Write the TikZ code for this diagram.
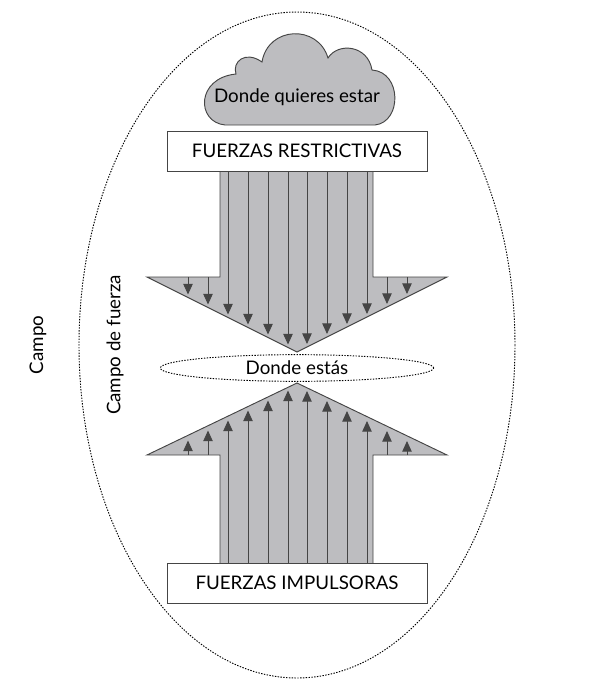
\documentclass[tikz,border=0pt]{standalone}
\usepackage{fontspec}
\setmainfont{Lato}
\usetikzlibrary{arrows.meta}
\usetikzlibrary{shapes}
\definecolor{flecha}{HTML}{BDBDC0}
\definecolor{linea}{HTML}{454545}
\tikzset{
  caja/.style={draw=linea, line width=0.8pt, fill=white, minimum width=7.8cm, minimum height=1.2cm, font=\fontsize{16}{18}\selectfont},
  fuerza/.style={draw=linea, line width=0.7pt, -{Triangle[length=9pt,width=8pt]}},
  punteado/.style={draw, line width=0.8pt, dash pattern=on 1.2pt off 1.2pt}
}
\begin{document}
\begin{tikzpicture}[x=0.03cm, y=-0.03cm]
  \useasboundingbox (0,0) rectangle (600,689);
  % campo
  \draw[punteado] (297,345) ellipse [x radius=218, y radius=333];
  \node[rotate=90, font=\fontsize{16}{18}\selectfont] (campo) at (38,345) {Campo};
  \node[rotate=90, font=\fontsize{16}{18}\selectfont] (campofuerza) at (115,345) {Campo de fuerza};
  % nube
  \draw[draw=linea, line width=0.8pt, fill=flecha] (225,125) -- (375,125)
    .. controls (402,122) and (402,72) .. (372,70)
    .. controls (368,45) and (338,42) .. (328,58)
    .. controls (318,24) and (268,26) .. (262,62)
    .. controls (245,50) and (232,62) .. (236,74)
    .. controls (196,78) and (196,122) .. (225,125) -- cycle;
  \node[font=\fontsize{16}{18}\selectfont] (nube) at (297,97) {Donde quieres estar};
  % flechas
  \draw[draw=linea, line width=0.8pt, fill=flecha] (220,150) -- (220,277) -- (147,277) -- (297,352)
    -- (447,277) -- (373,277) -- (373,150) -- cycle;
  \draw[draw=linea, line width=0.8pt, fill=flecha] (220,585) -- (220,455) -- (147,455) -- (297,383)
    -- (447,455) -- (373,455) -- (373,585) -- cycle;
  \foreach \k in {0,...,11} {
    \pgfmathsetmacro{\xx}{188+20*\k-(\k>5?1:0)}
    \pgfmathsetmacro{\dd}{abs(\xx-297)}
    \pgfmathsetmacro{\ya}{(\dd>70)?277:171}
    \pgfmathsetmacro{\yb}{352-0.5*\dd-3}
    \pgfmathsetmacro{\yc}{(\dd>70)?455:565}
    \pgfmathsetmacro{\yd}{383+0.5*\dd+3}
    \draw[fuerza] (\xx,\ya) -- (\xx,\yb);
    \draw[fuerza] (\xx,\yc) -- (\xx,\yd);
  }
  % cajas
  \node[caja] (restrictivas) at (297,151) {FUERZAS RESTRICTIVAS};
  \node[caja] (impulsoras) at (297,583) {FUERZAS IMPULSORAS};
  \node[punteado, ellipse, minimum width=8.2cm, minimum height=0.8cm, inner sep=0pt,
    font=\fontsize{16}{18}\selectfont] (estas) at (297,368) {Donde estás};
\end{tikzpicture}
\end{document}
